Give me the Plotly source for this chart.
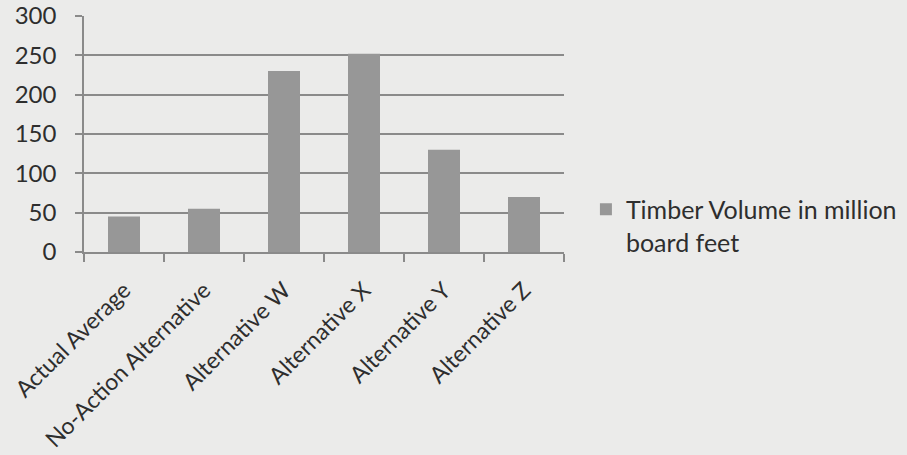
import plotly.graph_objects as go

categories = ["Actual Average", "No-Action Alternative", "Alternative W",
              "Alternative X", "Alternative Y", "Alternative Z"]
timber_volume = [45, 55, 230, 252, 130, 70]
series_name = "Timber Volume in million<br>board feet"
y_ticks = [0, 50, 100, 150, 200, 250, 300]

font_family = "Lato, 'Open Sans', sans-serif"
text_color = "#2e2e2e"
line_color = "#8a8a8a"

fig = go.Figure(
    go.Bar(
        x=categories,
        y=timber_volume,
        name=series_name,
        marker=dict(color="#979797", line=dict(width=0)),
        width=0.4,
        showlegend=True,
    )
)

fig.update_layout(
    width=907,
    height=455,
    margin=dict(l=84, r=343, t=16, b=203, autoexpand=False),
    paper_bgcolor="#ebebea",
    plot_bgcolor="#ebebea",
    font=dict(family=font_family, color=text_color, size=20),
    bargap=0.6,
    legend=dict(
        xref="container", yref="container",
        x=0.646, y=0.59, xanchor="left", yanchor="top",
        font=dict(size=25, color=text_color),
        bgcolor="rgba(0,0,0,0)",
        itemwidth=30,
        tracegroupgap=0,
        valign="top",
    ),
)

fig.update_yaxes(
    range=[0, 300],
    tickvals=y_ticks,
    ticks="outside",
    ticklen=7,
    tickcolor=line_color,
    tickwidth=1.5,
    showgrid=True,
    gridcolor=line_color,
    gridwidth=1.5,
    zeroline=False,
    showline=True,
    linecolor=line_color,
    linewidth=1.5,
    tickfont=dict(size=24, color=text_color),
    ticklabelstandoff=14,
    automargin=False,
)

fig.update_xaxes(
    tickangle=-45,
    ticks="outside",
    ticklen=8,
    tickcolor=line_color,
    tickwidth=1.5,
    tickson="boundaries",
    showline=True,
    linecolor=line_color,
    linewidth=1.5,
    tickfont=dict(size=23, color=text_color),
    ticklabelstandoff=14,
    automargin=False,
)

fig.write_html("out.html")
